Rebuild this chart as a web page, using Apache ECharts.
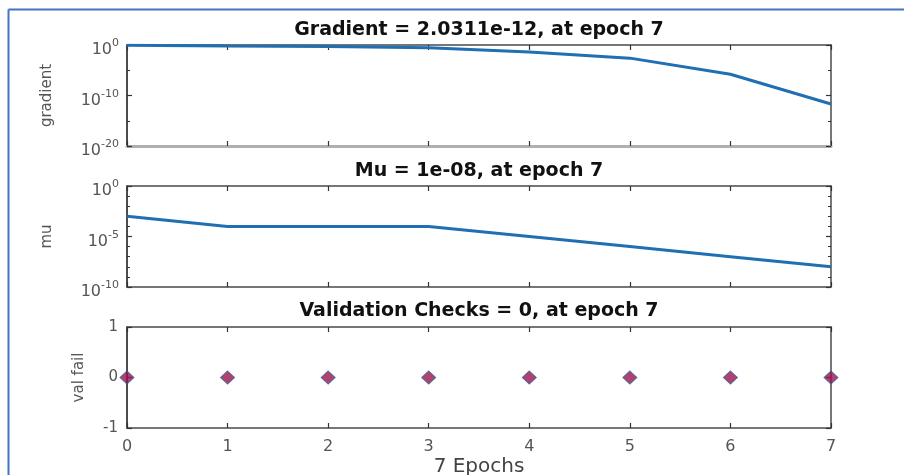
<!DOCTYPE html>
<html>
<head>
<meta charset="utf-8">
<script src="https://cdn.jsdelivr.net/npm/echarts@6/dist/echarts.min.js"></script>
<style>
  html, body { margin: 0; padding: 0; background: #fff; }
  #main { width: 904px; height: 475px; }
</style>
</head>
<body>
<div id="main"></div>
<script>
'use strict';
// training record values
const epochs = [0, 1, 2, 3, 4, 5, 6, 7];
const gradient = [9.0e-1, 6.5e-1, 5.0e-1, 3.0e-1, 4.0e-2, 2.5e-3, 1.6e-6, 2.0311e-12];
const mu = [1e-3, 1e-4, 1e-4, 1e-4, 1e-5, 1e-6, 1e-7, 1e-8];
const valFail = [0, 0, 0, 0, 0, 0, 0, 0];
const titles = ['Gradient = 2.0311e-12, at epoch 7', 'Mu = 1e-08, at epoch 7', 'Validation Checks = 0, at epoch 7'];
const yNames = ['gradient', 'mu', 'val fail'];
const xName = '7 Epochs';

const FONT = 'DejaVu Sans';
const BOX = '#333';
const LABEL = '#555';
const panelTops = [45, 186, 327];
const titleTops = [21, 162, 302];

const logLabel = {
  color: LABEL, fontFamily: FONT, fontSize: 16, margin: 8, padding: [6, 0, 0, 0],
  formatter: v => '{b|10}{s|' + v + '}',
  rich: {
    b: { fontSize: 16, fontFamily: FONT, color: LABEL, lineHeight: 20, verticalAlign: 'bottom' },
    s: { fontSize: 11, fontFamily: FONT, color: LABEL, lineHeight: 20, verticalAlign: 'top' }
  }
};

const yCfg = [
  { min: -20, max: 0, interval: 10, minor: 2, label: logLabel, gap: 72 },
  { min: -10, max: 0, interval: 5, minor: 5, label: logLabel, gap: 72 },
  { min: -1, max: 1, interval: 1, minor: 0, label: { color: LABEL, fontFamily: FONT, fontSize: 15, margin: 9 }, gap: 40 }
];

const grid = [], xAxis = [], yAxis = [], title = [], series = [];
panelTops.forEach((top, i) => {
  grid.push({ left: 127, top: top, width: 704, height: 101, containLabel: false, outerBoundsMode: 'none' });
  title.push({
    text: titles[i], left: 479, top: titleTops[i], textAlign: 'center', padding: 0,
    textStyle: { fontFamily: FONT, fontWeight: 'bold', fontSize: 19, color: '#111' }
  });
  const last = i === 2;
  const axLine = { show: true, onZero: false, lineStyle: { color: '#4a4a4a', width: 1.5 } };
  const xTick = { show: true, inside: true, length: 5, lineStyle: { color: BOX, width: 1.2 } };
  xAxis.push({
    type: 'value', gridIndex: i, min: 0, max: 7, interval: 1,
    axisLine: i === 0 ? { show: true, onZero: false, lineStyle: { color: '#b0b0b0', width: 3 } } : axLine,
    axisTick: xTick, splitLine: { show: false },
    axisLabel: { show: last, color: LABEL, fontFamily: FONT, fontSize: 16, margin: 11 },
    name: last ? xName : '', nameLocation: 'middle', nameGap: 29,
    nameTextStyle: { fontFamily: FONT, fontSize: 20, color: '#444' }
  });
  xAxis.push({
    type: 'value', gridIndex: i, min: 0, max: 7, interval: 1, position: 'top',
    axisLine: axLine, axisTick: xTick, axisLabel: { show: false }, splitLine: { show: false }
  });
  const c = yCfg[i];
  const yTick = { show: true, inside: true, length: 5, lineStyle: { color: BOX, width: 1.2 } };
  const minor = { show: c.minor > 0, splitNumber: c.minor || 1, length: 3, lineStyle: { color: BOX } };
  yAxis.push({
    type: 'value', gridIndex: i, min: c.min, max: c.max, interval: c.interval,
    axisLine: { show: true, onZero: false, lineStyle: { color: '#111', width: 1.5 } },
    axisTick: yTick, minorTick: minor, splitLine: { show: false }, axisLabel: c.label,
    name: yNames[i], nameLocation: 'middle', nameRotate: 90, nameGap: c.gap,
    nameTextStyle: { fontFamily: FONT, fontSize: 15, color: '#555' }
  });
  yAxis.push({
    type: 'value', gridIndex: i, min: c.min, max: c.max, interval: c.interval, position: 'right',
    axisLine: axLine, axisTick: yTick, minorTick: minor, splitLine: { show: false },
    axisLabel: { show: false }
  });
});

// log panels are plotted as log10 of the recorded values
series.push({
  type: 'line', xAxisIndex: 0, yAxisIndex: 0, symbol: 'none', animation: false,
  lineStyle: { color: '#1f6fb2', width: 3 },
  data: epochs.map((e, k) => [e, Math.log10(gradient[k])])
});
series.push({
  type: 'line', xAxisIndex: 2, yAxisIndex: 2, symbol: 'none', animation: false,
  lineStyle: { color: '#1f6fb2', width: 3 },
  data: epochs.map((e, k) => [e, Math.log10(mu[k])])
});
series.push({
  type: 'scatter', xAxisIndex: 4, yAxisIndex: 4, symbol: 'diamond', symbolSize: [14, 13],
  clip: false, animation: false,
  itemStyle: { color: '#9e1249', borderColor: '#2f5f9e', borderWidth: 1 },
  data: epochs.map((e, k) => [e, valFail[k]])
});

const chart = echarts.init(document.getElementById('main'));
chart.setOption({
  backgroundColor: '#fff',
  animation: false,
  title: title,
  grid: grid,
  xAxis: xAxis,
  yAxis: yAxis,
  series: series,
  graphic: [
    { type: 'line', shape: { x1: 8.5, y1: 9.5, x2: 904, y2: 9.5 }, style: { stroke: '#4472c4', lineWidth: 2 } },
    { type: 'line', shape: { x1: 8.5, y1: 9.5, x2: 8.5, y2: 475 }, style: { stroke: '#4472c4', lineWidth: 2 } }
  ]
});
</script>
</body>
</html>
